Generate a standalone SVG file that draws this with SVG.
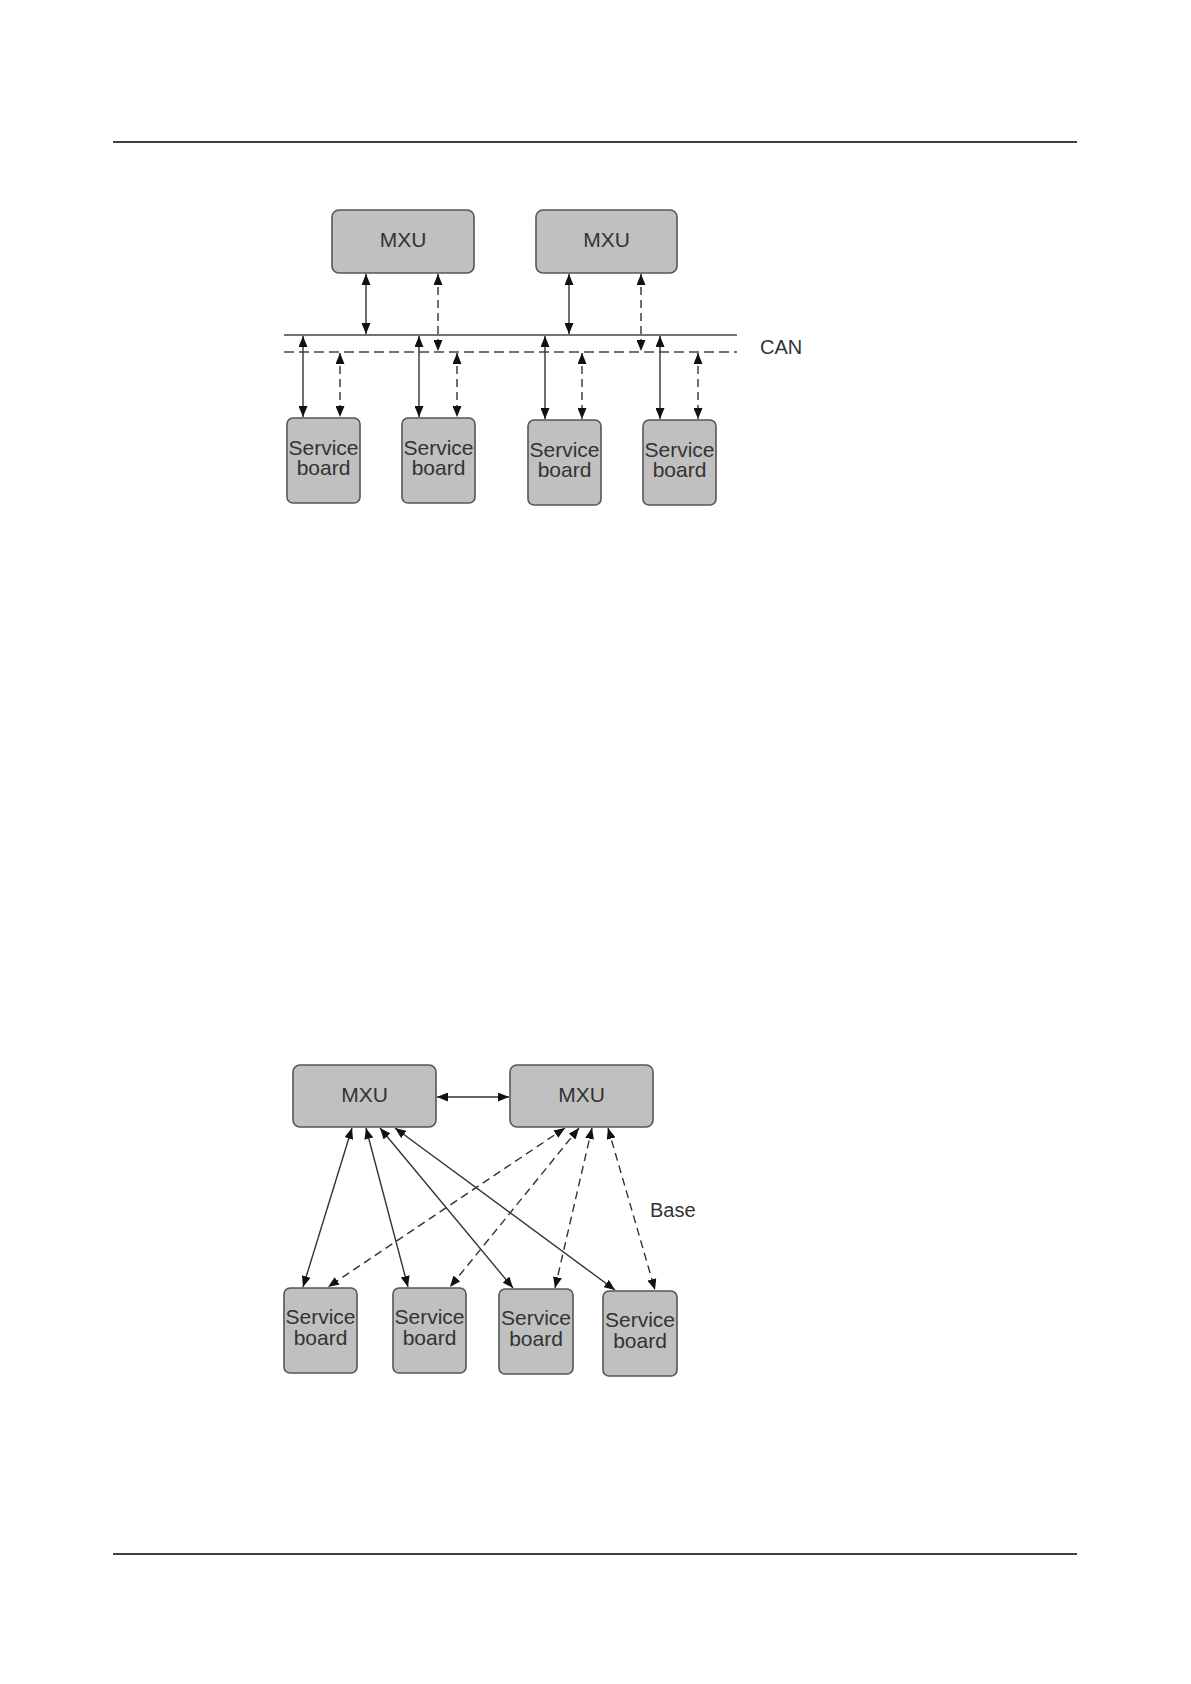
<svg xmlns="http://www.w3.org/2000/svg" width="1191" height="1684" viewBox="0 0 1191 1684">
<style>
.box{fill:#c0c0c0;stroke:#555;stroke-width:1.6}
.t{font-family:"Liberation Sans",Arial,sans-serif;font-size:21px;fill:#333;text-anchor:middle}
.lbl{font-family:"Liberation Sans",Arial,sans-serif;font-size:20px;fill:#333}
.c{stroke:#333;stroke-width:1.4;fill:none}
.a{marker-start:url(#ah);marker-end:url(#ah)}
.d{stroke-dasharray:8,5}
.bus{stroke:#444;stroke-width:1.6;fill:none}
.rule{stroke:#000;stroke-width:1.3}
</style>
<defs>
<marker id="ah" viewBox="0 0 11 9" refX="11" refY="4.5" markerWidth="11" markerHeight="9" markerUnits="userSpaceOnUse" orient="auto-start-reverse">
<path d="M0,0 L11,4.5 L0,9 z" fill="#111"/>
</marker>
</defs>
<rect width="1191" height="1684" fill="#fff"/>
<g id="page-rules">
<line class="rule" x1="113" y1="142" x2="1077" y2="142"/>
<line class="rule" x1="113" y1="1554" x2="1077" y2="1554"/>
</g>

<!-- Top diagram -->
<g id="can-bus">
<line class="bus" x1="284" y1="335" x2="737" y2="335"/>
<line class="bus" x1="284" y1="352" x2="737" y2="352" stroke-dasharray="10,5"/>
<text class="lbl" x="760" y="354">CAN</text>
</g>
<g id="connectors-top">
<line class="c a" x1="366" y1="274" x2="366" y2="334"/>
<line class="c a d" x1="438" y1="274" x2="438" y2="351"/>
<line class="c a" x1="569" y1="274" x2="569" y2="334"/>
<line class="c a d" x1="641" y1="274" x2="641" y2="351"/>
<line class="c a" x1="303" y1="336" x2="303" y2="417"/>
<line class="c a d" x1="340" y1="353" x2="340" y2="417"/>
<line class="c a" x1="419" y1="336" x2="419" y2="417"/>
<line class="c a d" x1="457" y1="353" x2="457" y2="417"/>
<line class="c a" x1="545" y1="336" x2="545" y2="419"/>
<line class="c a d" x1="582" y1="353" x2="582" y2="419"/>
<line class="c a" x1="660" y1="336" x2="660" y2="419"/>
<line class="c a d" x1="698" y1="353" x2="698" y2="419"/>
</g>
<g id="top-mxu1"><rect class="box" x="332" y="210" width="142" height="63" rx="7"/><text class="t" x="403" y="247">MXU</text></g>
<g id="top-mxu2"><rect class="box" x="536" y="210" width="141" height="63" rx="7"/><text class="t" x="606.5" y="247">MXU</text></g>
<g id="top-sb1"><rect class="box" x="287" y="418" width="73" height="85" rx="6"/><text class="t" x="323.5" y="455">Service</text><text class="t" x="323.5" y="475">board</text></g>
<g id="top-sb2"><rect class="box" x="402" y="418" width="73" height="85" rx="6"/><text class="t" x="438.5" y="455">Service</text><text class="t" x="438.5" y="475">board</text></g>
<g id="top-sb3"><rect class="box" x="528" y="420" width="73" height="85" rx="6"/><text class="t" x="564.5" y="457">Service</text><text class="t" x="564.5" y="477">board</text></g>
<g id="top-sb4"><rect class="box" x="643" y="420" width="73" height="85" rx="6"/><text class="t" x="679.5" y="457">Service</text><text class="t" x="679.5" y="477">board</text></g>

<!-- Bottom diagram -->
<g id="connectors-bottom">
<line class="c a" x1="437" y1="1097" x2="509" y2="1097"/>
<line class="c a" x1="352" y1="1128" x2="303" y2="1287"/>
<line class="c a" x1="366" y1="1128" x2="408" y2="1287"/>
<line class="c a" x1="380" y1="1128" x2="513" y2="1288"/>
<line class="c a" x1="395" y1="1128" x2="615" y2="1290"/>
<line class="c a d" x1="565" y1="1128" x2="328" y2="1287"/>
<line class="c a d" x1="579" y1="1128" x2="450" y2="1287"/>
<line class="c a d" x1="592" y1="1128" x2="555" y2="1288"/>
<line class="c a d" x1="608" y1="1128" x2="655" y2="1290"/>
</g>
<text class="lbl" x="650" y="1217">Base</text>
<g id="bot-mxu1"><rect class="box" x="293" y="1065" width="143" height="62" rx="7"/><text class="t" x="364.5" y="1102">MXU</text></g>
<g id="bot-mxu2"><rect class="box" x="510" y="1065" width="143" height="62" rx="7"/><text class="t" x="581.5" y="1102">MXU</text></g>
<g id="bot-sb1"><rect class="box" x="284" y="1288" width="73" height="85" rx="6"/><text class="t" x="320.5" y="1324">Service</text><text class="t" x="320.5" y="1345">board</text></g>
<g id="bot-sb2"><rect class="box" x="393" y="1288" width="73" height="85" rx="6"/><text class="t" x="429.5" y="1324">Service</text><text class="t" x="429.5" y="1345">board</text></g>
<g id="bot-sb3"><rect class="box" x="499" y="1289" width="74" height="85" rx="6"/><text class="t" x="536" y="1325">Service</text><text class="t" x="536" y="1346">board</text></g>
<g id="bot-sb4"><rect class="box" x="603" y="1291" width="74" height="85" rx="6"/><text class="t" x="640" y="1327">Service</text><text class="t" x="640" y="1348">board</text></g>
</svg>
